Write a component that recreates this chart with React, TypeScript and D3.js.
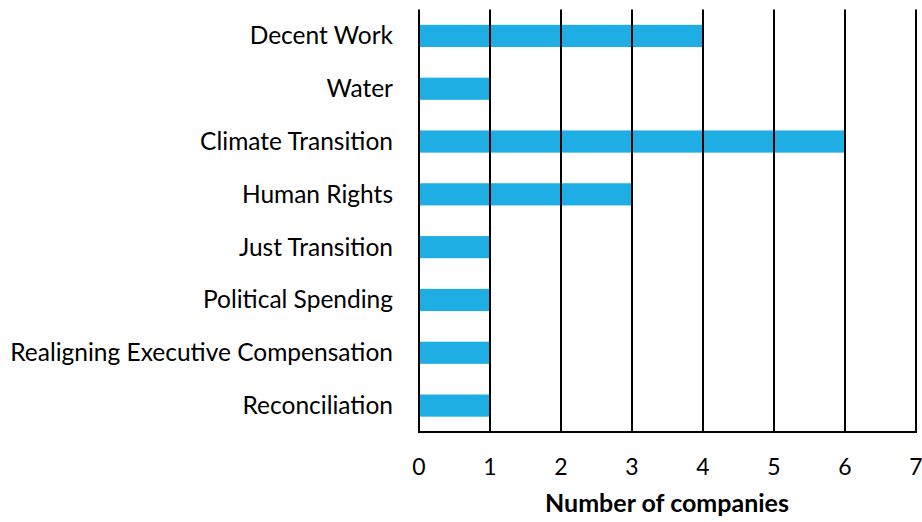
import { FC, useEffect, useRef } from 'react';
import * as d3 from 'd3';

const categories = [
  'Decent Work',
  'Water',
  'Climate Transition',
  'Human Rights',
  'Just Transition',
  'Political Spending',
  'Realigning Executive Compensation',
  'Reconciliation',
];
const companies = [4, 1, 6, 3, 1, 1, 1, 1];
const xTicks = [0, 1, 2, 3, 4, 5, 6, 7];

const App: FC = () => {
  const svgRef = useRef<SVGSVGElement>(null);

  useEffect(() => {
    if (!svgRef.current) return;
    const svg = d3.select(svgRef.current);
    svg.selectAll('*').remove();

    const left = 419;
    const right = 916;
    const top = 9.5;
    const bottom = 432;
    const font = 'Lato, "Open Sans", sans-serif';

    const x = d3.scaleLinear().domain([0, 7]).range([left, right]);
    const y = d3
      .scaleBand<string>()
      .domain(categories)
      .range([top, bottom])
      .paddingInner(0.58)
      .paddingOuter(0.29);

    // bars
    svg
      .selectAll('.bar')
      .data(categories)
      .enter()
      .append('rect')
      .attr('x', x(0))
      .attr('y', d => y(d) as number)
      .attr('width', (_, i) => x(companies[i]) - x(0))
      .attr('height', y.bandwidth())
      .attr('fill', '#1EAEE3');

    // vertical gridlines
    svg
      .selectAll('.grid')
      .data(xTicks)
      .enter()
      .append('line')
      .attr('x1', d => x(d))
      .attr('x2', d => x(d))
      .attr('y1', top)
      .attr('y2', bottom)
      .attr('stroke', '#000')
      .attr('stroke-width', 2);

    // bottom axis line
    svg
      .append('line')
      .attr('x1', x(0) - 1)
      .attr('x2', x(7) + 1)
      .attr('y1', bottom)
      .attr('y2', bottom)
      .attr('stroke', '#000')
      .attr('stroke-width', 2);

    // x tick labels
    svg
      .selectAll('.xtick')
      .data(xTicks)
      .enter()
      .append('text')
      .attr('x', d => x(d))
      .attr('y', 475)
      .attr('text-anchor', 'middle')
      .attr('font-family', font)
      .attr('font-size', 23)
      .attr('fill', '#000')
      .text(d => String(d));

    // category labels
    svg
      .selectAll('.ylabel')
      .data(categories)
      .enter()
      .append('text')
      .attr('x', 393)
      .attr('y', d => (y(d) as number) + y.bandwidth() / 2 + 8.5)
      .attr('text-anchor', 'end')
      .attr('font-family', font)
      .attr('font-size', 24.5)
      .attr('fill', '#000')
      .text(d => d);

    // axis title
    svg
      .append('text')
      .attr('x', 667)
      .attr('y', 512)
      .attr('text-anchor', 'middle')
      .attr('font-family', font)
      .attr('font-size', 25)
      .attr('font-weight', 'bold')
      .attr('fill', '#000')
      .text('Number of companies');
  }, []);

  return (
    <svg
      ref={svgRef}
      width={922}
      height={522}
      style={{ position: 'absolute', left: 0, top: 0, background: '#fff' }}
    />
  );
};

export default App;
